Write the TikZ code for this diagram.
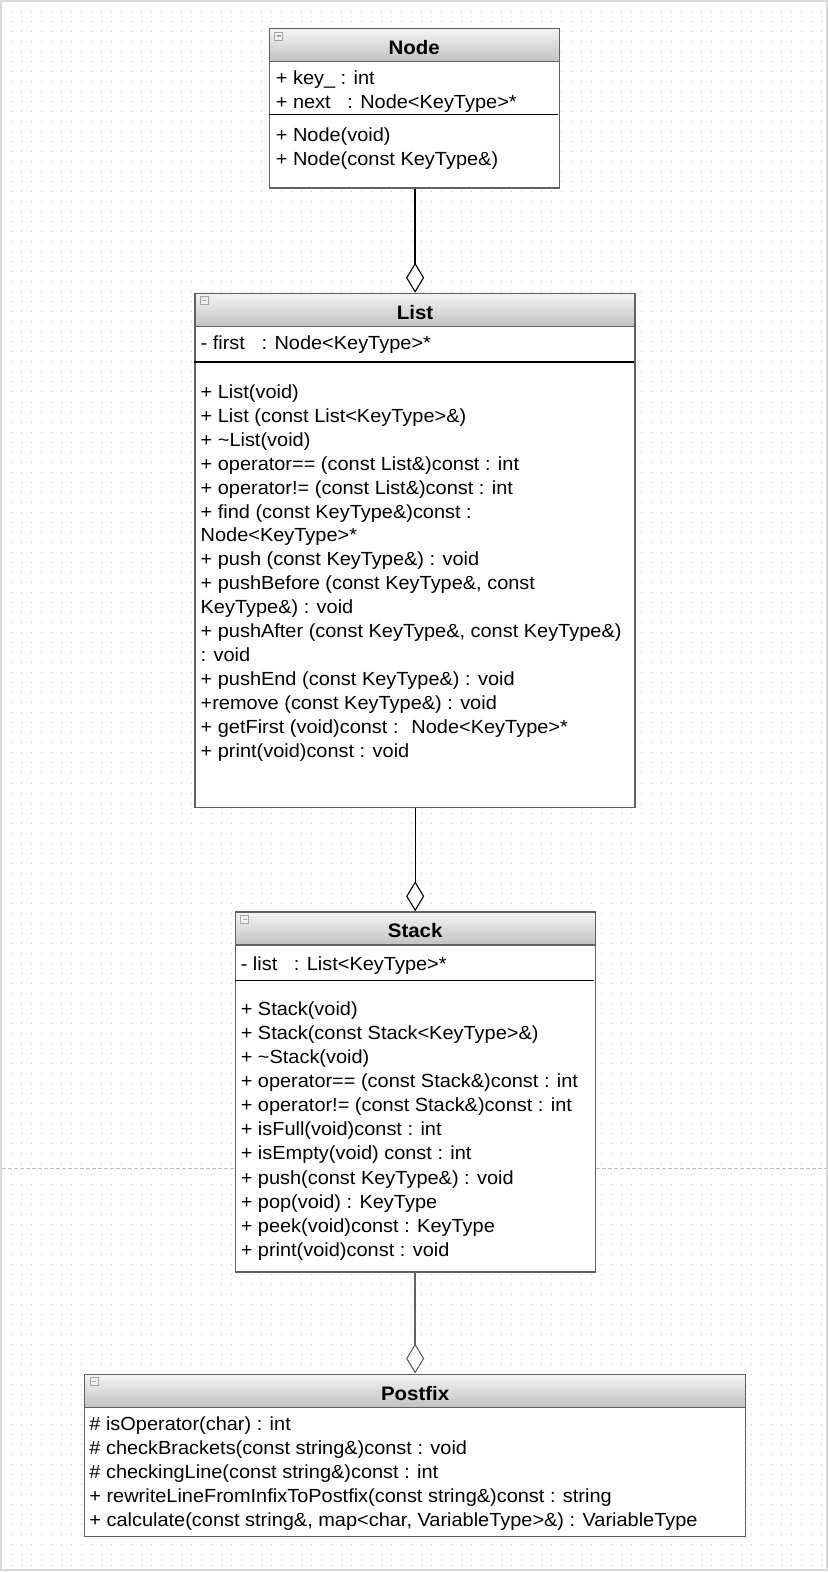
\documentclass[tikz,border=0pt]{standalone}
\usepackage{fontspec}
\setmainfont{Liberation Sans}[FakeStretch=1.05]
\usepackage{tikz}
\usetikzlibrary{arrows.meta}
\definecolor{boxgray}{RGB}{96,96,96}
\definecolor{headtop}{RGB}{244,244,244}
\definecolor{headbot}{RGB}{194,194,194}
\definecolor{dotgray}{RGB}{200,200,200}

\begin{document}
\begin{tikzpicture}[x=1.0024pt, y=-1.0026pt,
    font=\fontsize{19}{24}\selectfont,
    classbox/.style={draw=boxgray, line width=1.3pt, fill=white, anchor=north west, inner sep=0pt},
    classhead/.style={draw=boxgray, line width=1.3pt, top color=headtop, bottom color=headbot, anchor=north west, inner sep=0pt, minimum height=33pt, text height=19pt, text depth=0pt, font=\fontsize{19.5}{24}\selectfont\bfseries},
    member/.style={anchor=base west, inner sep=0pt},
    collapse/.style={draw=gray!70, fill=gray!12, minimum size=8pt, inner sep=0pt, line width=0.6pt,
      path picture={\draw[line width=1.2pt] ([xshift=2pt]path picture bounding box.west) -- ([xshift=-2pt]path picture bounding box.east);}},
    divider/.style={line width=1.2pt},
    aggregation/.style={line width=1.3pt, -{Diamond[open, length=30pt, width=18pt, line width=1.1pt]}}]

    \useasboundingbox (0,0) rectangle (826,1568);

    % dotted sheet and page break
    \foreach \y in {11,21,...,1561}
        \draw[dotgray, line width=1pt, dash pattern=on 1pt off 9pt] (10.5,\y) -- (824,\y);
    \draw[gray!30, line width=2pt] (1,1) rectangle (825,1566);
    \draw[gray!50, line width=0.8pt, dash pattern=on 4pt off 2pt] (2,1165) -- (824,1165);

    % Node
    \node[classbox, minimum width=290pt, minimum height=159.4pt] (nodeC) at (268,28) {};
    \node[classhead, minimum width=290pt] (nodeH) at (268,28) {Node};
    \node[collapse] (nodeI) at (278,36) {};
    \draw[divider] (268,114) -- (557,114);
    \node[member] (n1) at (275,84) {+ key\_ : int};
    \node[member] (n2) at (275,108) {+ next \ \ : Node<KeyType>*};
    \node[member] (n3) at (275,141) {+ Node(void)};
    \node[member] (n4) at (275,165) {+ Node(const KeyType\&)};

    % List
    \node[classbox, minimum width=440pt, minimum height=514.3pt] (listC) at (194,292) {};
    \node[classhead, minimum width=440pt] (listH) at (194,292) {List};
    \node[collapse] (listI) at (204,300) {};
    \draw[divider] (194,361) -- (633,361);
    \node[member] (l0) at (200,349) {- first \ \ : Node<KeyType>*};
    \node[member] (l1) at (200,397) {+ List(void)};
    \node[member] (l2) at (200,421) {+ List (const List<KeyType>\&)};
    \node[member] (l3) at (200,445) {+ \textasciitilde List(void)};
    \node[member] (l4) at (200,469) {+ operator== (const List\&)const : int};
    \node[member] (l5) at (200,493) {+ operator!= (const List\&)const : int};
    \node[member] (l6) at (200,517) {+ find (const KeyType\&)const :};
    \node[member] (l7) at (200,540) {Node<KeyType>*};
    \node[member] (l8) at (200,564) {+ push (const KeyType\&) : void};
    \node[member] (l9) at (200,588) {+ pushBefore (const KeyType\&, const};
    \node[member] (l10) at (200,612) {KeyType\&) : void};
    \node[member] (l11) at (200,636) {+ pushAfter (const KeyType\&, const KeyType\&)};
    \node[member] (l12) at (200,660) {: void};
    \node[member] (l13) at (200,684) {+ pushEnd (const KeyType\&) : void};
    \node[member] (l14) at (200,708) {+remove (const KeyType\&) : void};
    \node[member] (l15) at (200,732) {+ getFirst (void)const : \ Node<KeyType>*};
    \node[member] (l16) at (200,756) {+ print(void)const : void};

    % Stack
    \node[classbox, minimum width=360pt, minimum height=360pt] (stackC) at (234,909) {};
    \node[classhead, minimum width=360pt] (stackH) at (234,909) {Stack};
    \node[collapse] (stackI) at (244,917) {};
    \draw[divider] (234,978) -- (593,978);
    \node[member] (s0) at (240,968) {- list \ \ : List<KeyType>*};
    \node[member] (s1) at (240,1013) {+ Stack(void)};
    \node[member] (s2) at (240,1037) {+ Stack(const Stack<KeyType>\&)};
    \node[member] (s3) at (240,1061) {+ \textasciitilde Stack(void)};
    \node[member] (s4) at (240,1085) {+ operator== (const Stack\&)const : int};
    \node[member] (s5) at (240,1109) {+ operator!= (const Stack\&)const : int};
    \node[member] (s6) at (240,1133) {+ isFull(void)const : int};
    \node[member] (s7) at (240,1157) {+ isEmpty(void) const : int};
    \node[member] (s8) at (240,1181) {+ push(const KeyType\&) : void};
    \node[member] (s9) at (240,1205) {+ pop(void) : KeyType};
    \node[member] (s10) at (240,1229) {+ peek(void)const : KeyType};
    \node[member] (s11) at (240,1253) {+ print(void)const : void};

    % Postfix
    \node[classbox, minimum width=660.6pt, minimum height=162.4pt] (postC) at (84,1370) {};
    \node[classhead, minimum width=660.6pt] (postH) at (84,1370) {Postfix};
    \node[collapse] (postI) at (94,1378) {};
    \node[member] (p1) at (89,1427) {\# isOperator(char) : int};
    \node[member] (p2) at (89,1451) {\# checkBrackets(const string\&)const : void};
    \node[member] (p3) at (89,1475) {\# checkingLine(const string\&)const : int};
    \node[member] (p4) at (89,1499) {+ rewriteLineFromInfixToPostfix(const string\&)const : string};
    \node[member] (p5) at (89,1523) {+ calculate(const string\&, map<char, VariableType>\&) : VariableType};

    % aggregations
    \draw[aggregation] (nodeC.south -| listC.north) -- (listC.north);
    \draw[aggregation] (listC.south -| stackC.north) -- (stackC.north);
    \draw[aggregation, boxgray] (stackC.south -| postC.north) -- (postC.north);

\end{tikzpicture}
\end{document}
